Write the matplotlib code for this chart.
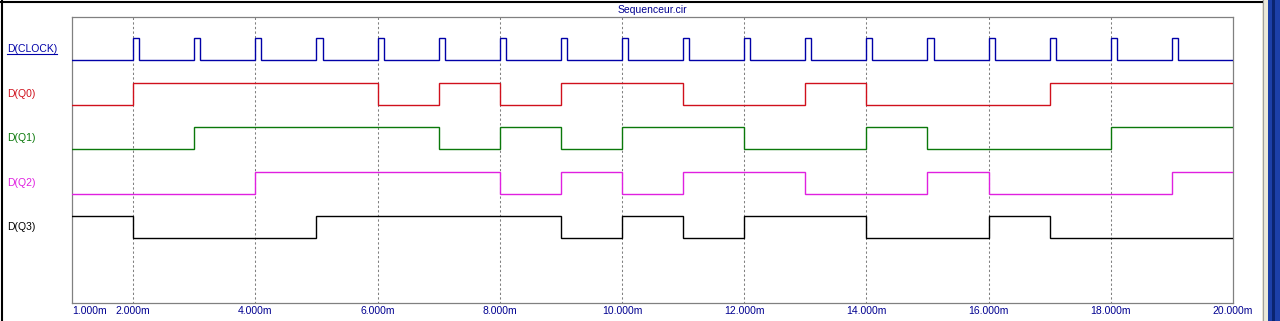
import numpy as np
import matplotlib
matplotlib.use("Agg")
import matplotlib.pyplot as plt
from matplotlib.transforms import blended_transform_factory
from matplotlib.patches import Rectangle
from matplotlib.lines import Line2D

# ---------------- data (time in ms) ----------------
t_start = 1.0
t_end = 20.0
signal_names = ["D(CLOCK)", "D(Q0)", "D(Q1)", "D(Q2)", "D(Q3)"]
clock_pulse_starts = [2, 3, 4, 5, 6, 7, 8, 9, 10, 11, 12, 13, 14, 15, 16, 17, 18, 19]
clock_pulse_width = 0.1
q0_initial = 0
q0_edges = [2, 6, 7, 8, 9, 11, 13, 14, 17]
q1_initial = 0
q1_edges = [3, 7, 8, 9, 10, 12, 14, 15, 18]
q2_initial = 0
q2_edges = [4, 8, 9, 10, 11, 13, 15, 16, 19]
q3_initial = 1
q3_edges = [2, 5, 9, 10, 11, 12, 14, 16, 17]
tick_values = [1, 2, 4, 6, 8, 10, 12, 14, 16, 18, 20]
tick_labels = ["1.000m", "2.000m", "4.000m", "6.000m", "8.000m", "10.000m",
               "12.000m", "14.000m", "16.000m", "18.000m", "20.000m"]
grid_values = [2, 4, 6, 8, 10, 12, 14, 16, 18]
title = "Sequenceur.cir"

colors = ["#0000A8", "#D0101C", "#0A780A", "#E020E0", "#000000"]
navy = "#000090"

W, H = 1280, 321
fig = plt.figure(figsize=(W / 100, H / 100), dpi=100)
fig.patch.set_facecolor("white")

ax_l, ax_r, ax_t, ax_b = 72, 1233, 17, 303
ax = fig.add_axes([ax_l / W, 1 - ax_b / H, (ax_r - ax_l) / W, (ax_b - ax_t) / H])
ax.set_facecolor("white")

amp = 0.5  # height of a logic high relative to lane spacing


def step_wave(initial, edges):
    xs = [t_start]
    ys = [initial]
    lvl = initial
    for e in edges:
        xs += [e, e]
        ys += [lvl, 1 - lvl]
        lvl = 1 - lvl
    xs.append(t_end)
    ys.append(lvl)
    return np.array(xs, float), np.array(ys, float)


def clock_wave(starts, width):
    xs = [t_start]
    ys = [0]
    for s in starts:
        xs += [s, s, s + width, s + width]
        ys += [0, 1, 1, 0]
    xs.append(t_end)
    ys.append(0)
    return np.array(xs, float), np.array(ys, float)


waves = [clock_wave(clock_pulse_starts, clock_pulse_width),
         step_wave(q0_initial, q0_edges),
         step_wave(q1_initial, q1_edges),
         step_wave(q2_initial, q2_edges),
         step_wave(q3_initial, q3_edges)]

# grid
ax.vlines(grid_values, -10, 10, colors="#808080", linewidth=0.75,
          linestyles=(0, (2.2, 2.2)), zorder=1)

for i, (xs, ys) in enumerate(waves):
    ax.plot(xs, -i + amp * ys, color=colors[i], linewidth=1.0, zorder=3,
            solid_joinstyle="miter")

ax.set_xlim(t_start, t_end)
ax.set_ylim(-5.454, 0.973)
ax.set_yticks([])
ax.set_xticks(tick_values)
ax.set_xticklabels(tick_labels)
ax.tick_params(axis="x", length=0, pad=2.2, labelsize=7.5, labelcolor=navy)
for lbl in ax.get_xticklabels():
    lbl.set_fontfamily("Liberation Sans")
ax.get_xticklabels()[0].set_horizontalalignment("left")
for sp in ax.spines.values():
    sp.set_color("#808080")
    sp.set_linewidth(0.9)

# signal labels
tr = blended_transform_factory(fig.transFigure, ax.transData)
label_texts = []
for i, name in enumerate(signal_names):
    t = ax.text(7 / W, -i + amp / 2, name, transform=tr, color=colors[i],
                fontsize=7.5, family="Liberation Sans", ha="left", va="center",
                clip_on=False)
    label_texts.append(t)

# title
fig.text(652 / W, 1 - 10 / H, title, color=navy, fontsize=7.5,
         family="Liberation Sans", ha="center", va="center")

# window chrome
fig.add_artist(Line2D([0, 1262 / W], [1 - 1.5 / H, 1 - 1.5 / H],
                      transform=fig.transFigure, color="black", linewidth=1.5))
fig.add_artist(Line2D([1.5 / W, 1.5 / W], [0, 1], transform=fig.transFigure,
                      color="black", linewidth=1.5))
fig.add_artist(Rectangle((1262 / W, 0), 6 / W, 1, transform=fig.transFigure,
                         facecolor="#ECE9D8", edgecolor="none"))
fig.add_artist(Line2D([1262.5 / W, 1262.5 / W], [0, 1], transform=fig.transFigure,
                      color="#A0A0A0", linewidth=0.8))
fig.add_artist(Rectangle((1268 / W, 0), 12 / W, 1, transform=fig.transFigure,
                         facecolor="#1C3FA8", edgecolor="none"))
fig.add_artist(Rectangle((1272 / W, 0), 3 / W, 1, transform=fig.transFigure,
                         facecolor="#0A2470", edgecolor="none"))

# underline for the clock label
fig.canvas.draw()
bb = label_texts[0].get_window_extent(fig.canvas.get_renderer())
y_ul = (bb.y0 + 0.5) / H
fig.add_artist(Line2D([bb.x0 / W, bb.x1 / W], [y_ul, y_ul], transform=fig.transFigure,
                      color=colors[0], linewidth=0.8))

fig.savefig("out.png", dpi=100, facecolor="white")
